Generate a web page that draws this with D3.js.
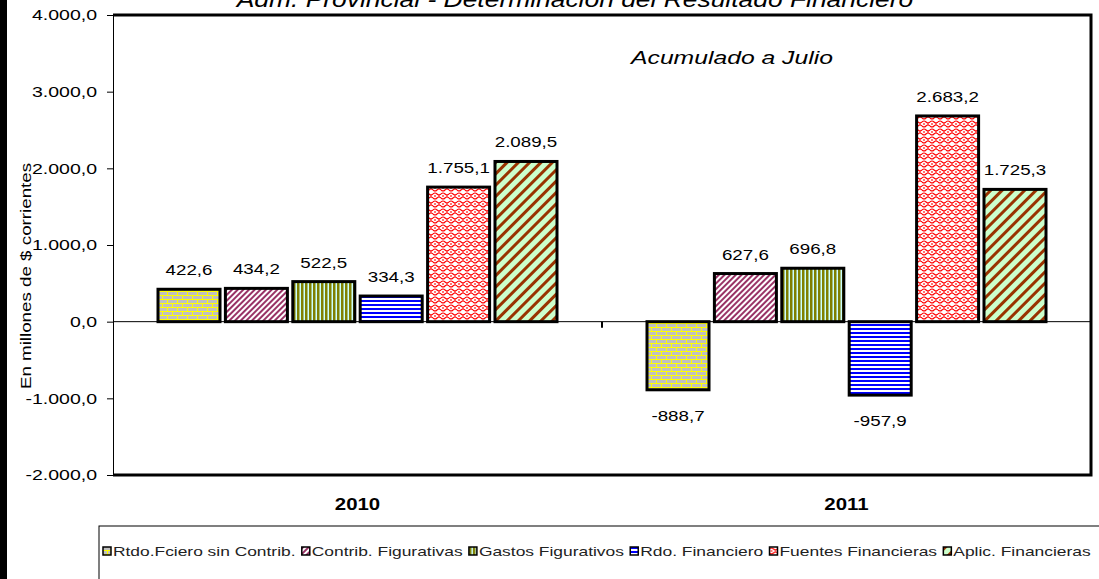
<!DOCTYPE html>
<html>
<head>
<meta charset="utf-8">
<script src="https://cdn.jsdelivr.net/npm/d3@7"></script>
<style>
  body { margin: 0; background: #fff; }
  svg { display: block; font-family: "Liberation Sans", Arial, sans-serif; }
</style>
</head>
<body>
<div id="chart"></div>
<script>
// data
const categories = ["2010", "2011"];
const seriesNames = ["Rtdo.Fciero sin Contrib.", "Contrib. Figurativas", "Gastos Figurativos",
    "Rdo. Financiero", "Fuentes Financieras", "Aplic. Financieras"];
const values2010 = [422.6, 434.2, 522.5, 334.3, 1755.1, 2089.5];
const values2011 = [-888.7, 627.6, 696.8, -957.9, 2683.2, 1725.3];
const yTicks = [-2000, -1000, 0, 1000, 2000, 3000, 4000];

const valuesByCat = {"2010": values2010, "2011": values2011};
const patternIds = ["pBrick", "pPurple", "pOlive", "pBlue", "pRed", "pBrown"];

const width = 1099, height = 579;
const plot = {left: 113, right: 1091, top: 15, bottom: 475};

const locale = d3.formatLocale({decimal: ",", thousands: ".", grouping: [3], currency: ["$", ""], minus: "-"});
const fmt = locale.format(",.1f");

const svg = d3.select("#chart").append("svg")
    .attr("width", width)
    .attr("height", height);

// stretch text horizontally like the source raster
function stretch(sel, k) {
    sel.each(function () {
        let w = this.getComputedTextLength();
        d3.select(this).attr("textLength", w * k).attr("lengthAdjust", "spacingAndGlyphs");
    });
}

// patterns
const defs = svg.append("defs");

let p = defs.append("pattern").attr("id", "pBrick").attr("patternUnits", "userSpaceOnUse")
    .attr("width", 10).attr("height", 8);
p.append("rect").attr("width", 10).attr("height", 8).attr("fill", "#ffff00");
p.append("rect").attr("x", 0).attr("y", 0).attr("width", 9).attr("height", 3).attr("fill", "#c0c0c0");
p.append("rect").attr("x", 0).attr("y", 4).attr("width", 4).attr("height", 3).attr("fill", "#c0c0c0");
p.append("rect").attr("x", 5).attr("y", 4).attr("width", 5).attr("height", 3).attr("fill", "#c0c0c0");

p = defs.append("pattern").attr("id", "pPurple").attr("patternUnits", "userSpaceOnUse")
    .attr("width", 4).attr("height", 4).attr("patternTransform", "rotate(45)");
p.append("rect").attr("width", 4).attr("height", 4).attr("fill", "#ffffff");
p.append("rect").attr("width", 2).attr("height", 4).attr("fill", "#993366");

p = defs.append("pattern").attr("id", "pOlive").attr("patternUnits", "userSpaceOnUse")
    .attr("width", 4).attr("height", 4);
p.append("rect").attr("width", 4).attr("height", 4).attr("fill", "#ccffff");
p.append("rect").attr("width", 2.5).attr("height", 4).attr("fill", "#808000");

p = defs.append("pattern").attr("id", "pBlue").attr("patternUnits", "userSpaceOnUse")
    .attr("width", 4).attr("height", 4);
p.append("rect").attr("width", 4).attr("height", 4).attr("fill", "#ffffff");
p.append("rect").attr("width", 4).attr("height", 2).attr("fill", "#0000ff");

p = defs.append("pattern").attr("id", "pRed").attr("patternUnits", "userSpaceOnUse")
    .attr("width", 8).attr("height", 8);
p.append("rect").attr("width", 8).attr("height", 8).attr("fill", "#ffffff");
p.append("path").attr("d", "M0,2 Q2,0 4,2 T8,2 M0,6 Q2,8 4,6 T8,6 M2,3 L2,5 M6,3 L6,5")
    .attr("fill", "none").attr("stroke", "#ff0000").attr("stroke-width", 1.1);

p = defs.append("pattern").attr("id", "pBrown").attr("patternUnits", "userSpaceOnUse")
    .attr("width", 8).attr("height", 8).attr("patternTransform", "rotate(45)");
p.append("rect").attr("width", 8).attr("height", 8).attr("fill", "#ccffcc");
p.append("rect").attr("width", 3).attr("height", 8).attr("fill", "#993300");

// black strip on the left edge
svg.append("rect").attr("x", 0).attr("y", 0).attr("width", 7).attr("height", height).attr("fill", "#000");

// scales
const y = d3.scaleLinear().domain([-2000, 4000]).range([plot.bottom, plot.top]);
const x0 = d3.scaleBand().domain(categories).range([plot.left, plot.right]);
const x1 = d3.scaleBand().domain(seriesNames).range([45, x0.bandwidth() - 45]).paddingInner(0.08);

// title (cut at the top, as in the source)
let t = svg.append("text").attr("x", 575).attr("y", 7).attr("text-anchor", "middle")
    .attr("font-size", 22).attr("font-style", "italic")
    .text("Adm. Provincial - Determinación del Resultado Financiero");
stretch(t, 1.2);

t = svg.append("text").attr("x", 732).attr("y", 64).attr("text-anchor", "middle")
    .attr("font-size", 19).attr("font-style", "italic")
    .text("Acumulado a Julio");
stretch(t, 1.3);

// y axis
const yAxis = svg.append("g")
    .attr("transform", `translate(${plot.left},0)`)
    .call(d3.axisLeft(y).tickValues(yTicks).tickFormat(fmt).tickSize(6).tickPadding(10));
yAxis.select(".domain").attr("stroke", "#000");
yAxis.selectAll(".tick line").attr("stroke", "#000");
yAxis.selectAll(".tick text").attr("font-size", 15).attr("fill", "#000")
    .attr("font-family", "'Liberation Sans', Arial, sans-serif");
stretch(yAxis.selectAll(".tick text"), 1.3);

t = svg.append("text")
    .attr("transform", "translate(31,276) rotate(-90)")
    .attr("text-anchor", "middle").attr("font-size", 15)
    .text("En millones de $ corrientes");
stretch(t, 1.25);

// zero line and category ticks
svg.append("line").attr("x1", plot.left).attr("x2", plot.right)
    .attr("y1", y(0)).attr("y2", y(0)).attr("stroke", "#000");
svg.selectAll(".cattick").data(categories.slice(1)).enter().append("line")
    .attr("x1", d => x0(d)).attr("x2", d => x0(d))
    .attr("y1", y(0)).attr("y2", y(0) + 6).attr("stroke", "#000").attr("stroke-width", 2);

// bars
const groups = svg.selectAll(".grp").data(categories).enter().append("g")
    .attr("transform", d => `translate(${x0(d)},0)`);

groups.selectAll("rect").data(c => valuesByCat[c].map((v, i) => ({v, i}))).enter().append("rect")
    .attr("x", d => x1(seriesNames[d.i]))
    .attr("y", d => y(Math.max(0, d.v)))
    .attr("width", x1.bandwidth())
    .attr("height", d => Math.abs(y(d.v) - y(0)))
    .attr("fill", d => `url(#${patternIds[d.i]})`)
    .attr("stroke", "#000").attr("stroke-width", 3);

const labels = groups.selectAll(".val").data(c => valuesByCat[c].map((v, i) => ({v, i}))).enter().append("text")
    .attr("x", d => x1(seriesNames[d.i]) + x1.bandwidth() / 2)
    .attr("y", d => d.v >= 0 ? y(d.v) - 14 : y(d.v) + 31)
    .attr("text-anchor", "middle").attr("font-size", 15)
    .text(d => fmt(d.v));
stretch(labels, 1.25);

// frame (top, right, bottom)
svg.append("path")
    .attr("d", `M${plot.left},${plot.top}H${plot.right}V${plot.bottom}H${plot.left}`)
    .attr("fill", "none").attr("stroke", "#000").attr("stroke-width", 3);

// category labels
const catLabels = svg.selectAll(".cat").data(categories).enter().append("text")
    .attr("x", d => x0(d) + x0.bandwidth() / 2)
    .attr("y", 510)
    .attr("text-anchor", "middle").attr("font-size", 17).attr("font-weight", "bold")
    .text(d => d);
stretch(catLabels, 1.2);

// legend
svg.append("rect").attr("x", 99).attr("y", 526).attr("width", 1010).attr("height", 60)
    .attr("fill", "#fff").attr("stroke", "#000");

const legend = svg.append("g");
const items = legend.selectAll("g").data(seriesNames).enter().append("g");
items.append("rect").attr("width", 8).attr("height", 8)
    .attr("fill", (d, i) => `url(#${patternIds[i]})`)
    .attr("stroke", "#000").attr("stroke-width", 1.5);
items.append("text").attr("x", 10).attr("y", 8.5).attr("font-size", 13).attr("fill", "#222").text(d => d);

// lay out legend items across the box
const legendStart = 103, legendEnd = 1097;
let natural = 0;
items.select("text").each(function () { natural += this.getComputedTextLength() + 13; });
const k = (legendEnd - legendStart) / natural;
let cx = legendStart;
items.each(function () {
    let txt = d3.select(this).select("text");
    let w = txt.node().getComputedTextLength();
    txt.attr("textLength", w * k + 3 * (k - 1)).attr("lengthAdjust", "spacingAndGlyphs");
    d3.select(this).attr("transform", `translate(${cx},547)`);
    cx += (w + 13) * k;
});
</script>
</body>
</html>
